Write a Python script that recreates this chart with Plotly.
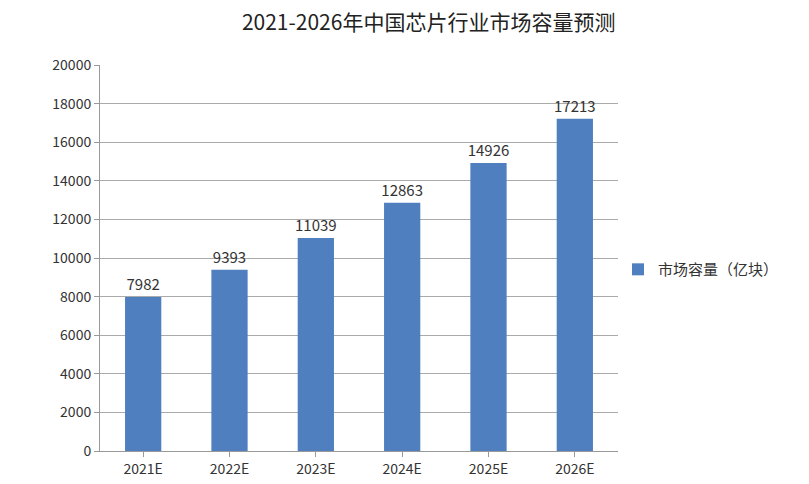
import plotly.graph_objects as go

years = ["2021E", "2022E", "2023E", "2024E", "2025E", "2026E"]
capacity = [7982, 9393, 11039, 12863, 14926, 17213]
y_ticks = list(range(0, 20001, 2000))

fig = go.Figure(go.Bar(
    x=years, y=capacity, name="市场容量（亿块）",
    marker=dict(color="#4F7FBF", line=dict(width=0)),
    text=[str(v) for v in capacity], textposition="outside",
    textfont=dict(size=15, color="#333"),
    cliponaxis=False,
))

fig.update_layout(
    width=809, height=484,
    title=dict(text="2021-2026年中国芯片行业市场容量预测", x=0.52, xanchor="center",
               y=0.985, yanchor="top", font=dict(size=21, color="#222")),
    font=dict(family="Noto Sans CJK SC, Noto Sans, sans-serif", size=14, color="#333"),
    paper_bgcolor="white", plot_bgcolor="white",
    margin=dict(l=92, r=199, t=57, b=41),
    bargap=0.58,
    uniformtext=dict(minsize=15, mode="show"),
    showlegend=True,
    legend=dict(x=1.0, y=0.47, yanchor="middle", font=dict(size=15)),
    xaxis=dict(showline=True, linecolor="#999", ticks="outside", tickcolor="#999",
               ticklen=5, tickfont=dict(size=14)),
    yaxis=dict(range=[0, 20000], tickvals=y_ticks, ticktext=[str(v) for v in y_ticks],
               showgrid=True, gridcolor="#aaa",
               showline=True, linecolor="#999", ticks="outside", tickcolor="#999",
               ticklen=5, tickfont=dict(size=14), zeroline=False),
)

fig.write_html("out.html")
